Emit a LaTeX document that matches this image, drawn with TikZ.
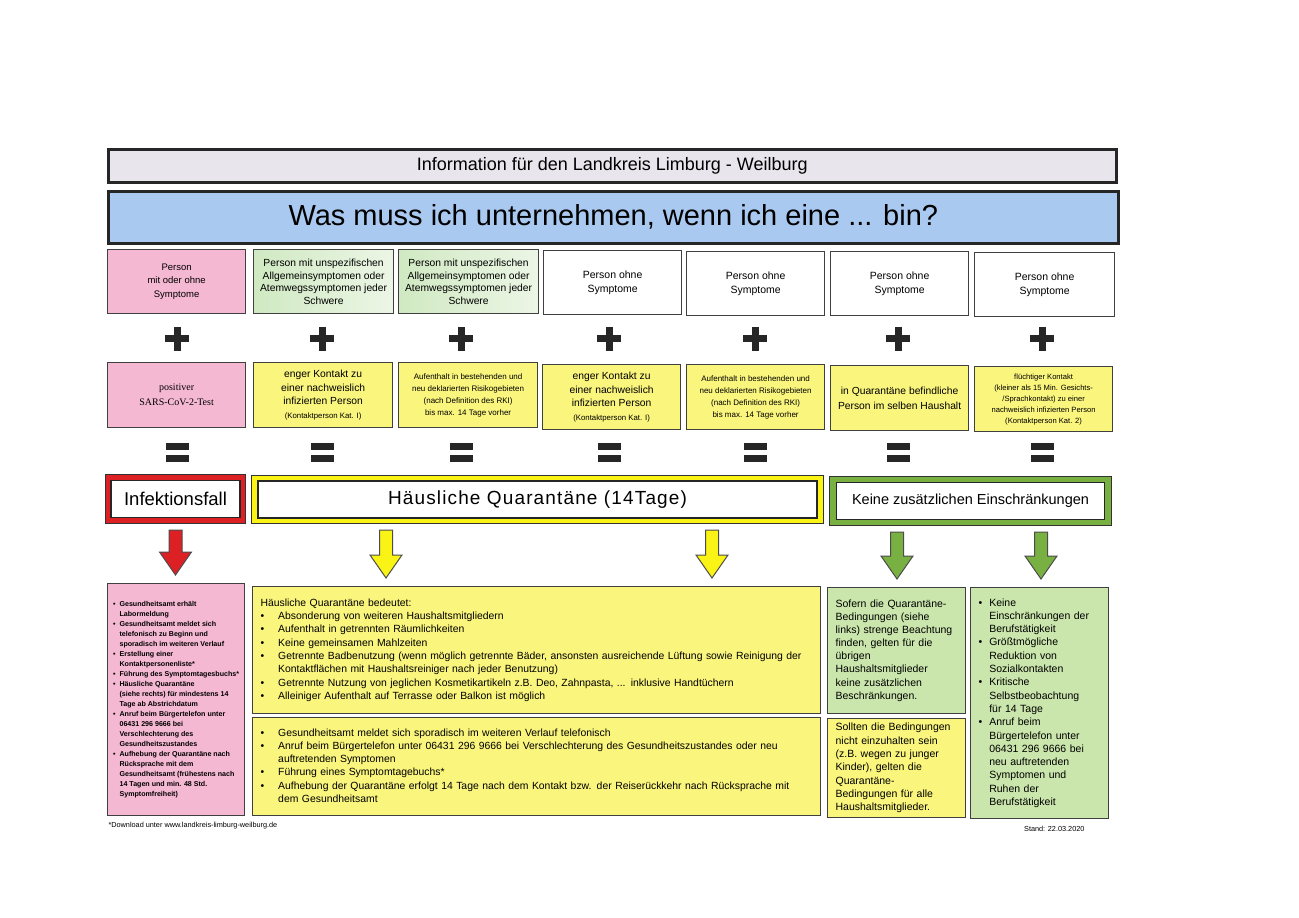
\documentclass[tikz,border=0pt]{standalone}
\usepackage{fontspec}
\usepackage{tikz}
\setmainfont{Liberation Sans}
\newfontfamily\serfont{Liberation Serif}
\newfontfamily\spacedfont[LetterSpace=6]{Liberation Sans}
\usetikzlibrary{calc}

\definecolor{headgray}{RGB}{232,229,236}
\definecolor{headblue}{RGB}{170,201,241}
\definecolor{pinkfill}{RGB}{245,184,210}
\definecolor{yelfill}{RGB}{250,245,125}
\definecolor{grnfill}{RGB}{202,230,172}
\definecolor{grnlight}{RGB}{236,246,230}
\definecolor{grndark}{RGB}{208,233,194}
\definecolor{redframe}{RGB}{221,32,36}
\definecolor{yelframe}{RGB}{250,244,22}
\definecolor{grnframe}{RGB}{120,176,66}

\newcommand{\fs}[2]{\fontsize{#1}{#2}\selectfont}
\newcommand{\bul}{\textbullet}
\newcommand{\blockarrow}[4]{%
  \draw[arrowline,fill=#1] let \p1=(#2),\p2=(#3.south),\p3=(#4.north) in
    (\x1-6.5pt,\y2-6pt) -- (\x1+6.5pt,\y2-6pt) -- (\x1+6.5pt,\y3+31pt) -- (\x1+16pt,\y3+31pt)
    -- (\x1,\y3+8pt) -- (\x1-16pt,\y3+31pt) -- (\x1-6.5pt,\y3+31pt) -- cycle;}

\begin{document}
\begin{tikzpicture}[x=1pt,y=-1pt,
  box/.style={rectangle,draw=black!75,line width=1.2pt,anchor=north west,align=center,inner sep=2pt},
  head/.style={rectangle,draw=black!85,line width=2.6pt,anchor=north west,align=center},
  frame/.style={rectangle,draw=black!80,line width=1pt,anchor=north west},
  inbox/.style={rectangle,draw=black!85,line width=1.3pt,fill=white,align=center},
  greenbox/.style={left color=grndark,right color=grnlight},
  textbox/.style={box,align=left,inner xsep=8pt},
  arrowline/.style={draw=black!70,line width=1pt},
  sign/.style={fill=black!85}]

\useasboundingbox (0,0) rectangle (1299,918);

% header
\node[head,fill=headgray,minimum width=1008,minimum height=33,font=\fs{18}{20}] (info) at (107,148) {Information für den Landkreis Limburg - Weilburg};
\node[head,fill=headblue,minimum width=1010,minimum height=52,font=\fs{29}{32}] (title) at (107,190) {Was muss ich unternehmen, wenn ich eine ... bin?};

% persons
\node[box,fill=pinkfill,minimum width=138,minimum height=64,font=\fs{9.5}{13.5}] (p1) at (107,249) {Person\\mit oder ohne\\Symptome};
\node[box,greenbox,minimum width=140,minimum height=64,font=\fs{10.3}{12.5}] (p2) at (253,249) {Person mit unspezifischen\\Allgemeinsymptomen oder\\Atemwegssymptomen jeder\\Schwere};
\node[box,greenbox,minimum width=140,minimum height=64,font=\fs{10.3}{12.5}] (p3) at (398,249) {Person mit unspezifischen\\Allgemeinsymptomen oder\\Atemwegssymptomen jeder\\Schwere};
\node[box,fill=white,minimum width=138,minimum height=64,font=\fs{10.5}{14}] (p4) at (543,250) {Person ohne\\Symptome};
\node[box,fill=white,minimum width=138,minimum height=64,font=\fs{10.5}{14}] (p5) at (686,251) {Person ohne\\Symptome};
\node[box,fill=white,minimum width=138,minimum height=64,font=\fs{10.5}{14}] (p6) at (830,251) {Person ohne\\Symptome};
\node[box,fill=white,minimum width=140,minimum height=64,font=\fs{10.5}{14}] (p7) at (974,252) {Person ohne\\Symptome};

% plus and equals
\foreach \x in {177,322,461,609,755,898,1042} {
  \fill[sign] (\x-12,335) rectangle (\x+12,342);
  \fill[sign] (\x-3.5,326.5) rectangle (\x+3.5,350.5);
  \fill[sign] (\x-11.5,443) rectangle (\x+11.5,450);
  \fill[sign] (\x-11.5,455) rectangle (\x+11.5,462);
}

% conditions
\node[box,fill=pinkfill,minimum width=138,minimum height=65,font=\serfont\fs{10}{15}] (c1) at (107,362) {positiver\\SARS-CoV-2-Test};
\node[box,fill=yelfill,minimum width=139,minimum height=65,font=\fs{10.3}{13.5}] (c2) at (253,362) {enger Kontakt zu\\einer nachweislich\\infizierten Person\\{\fs{7.8}{12}(Kontaktperson Kat. I)}};
\node[box,fill=yelfill,minimum width=139,minimum height=65,font=\fs{8}{12}] (c3) at (398,362) {Aufenthalt in bestehenden und\\neu deklarierten Risikogebieten\\(nach Definition des RKI)\\bis max. 14 Tage vorher};
\node[box,fill=yelfill,minimum width=138,minimum height=65,font=\fs{10.3}{13.5}] (c4) at (542,364) {enger Kontakt zu\\einer nachweislich\\infizierten Person\\{\fs{7.8}{12}(Kontaktperson Kat. I)}};
\node[box,fill=yelfill,minimum width=138,minimum height=65,font=\fs{8}{12}] (c5) at (686,364) {Aufenthalt in bestehenden und\\neu deklarierten Risikogebieten\\(nach Definition des RKI)\\bis max. 14 Tage vorher};
\node[box,fill=yelfill,minimum width=138,minimum height=65,font=\fs{10.3}{14.5}] (c6) at (830,365) {in Quarantäne befindliche\\Person im selben Haushalt};
\node[box,fill=yelfill,minimum width=138,minimum height=65,font=\fs{7.6}{11}] (c7) at (974,366) {flüchtiger Kontakt\\(kleiner als 15 Min. Gesichts-\\/Sprachkontakt) zu einer\\nachweislich infizierten Person\\(Kontaktperson Kat. 2)};

% results
\node[frame,fill=redframe,minimum width=140,minimum height=49] (inf) at (105,474) {};
\node[inbox,minimum width=129,minimum height=37,font=\fs{18.5}{20}] (inf-in) at (inf.center) {Infektionsfall};
\node[frame,fill=yelframe,minimum width=572,minimum height=48] (hq) at (251,475) {};
\node[inbox,minimum width=559,minimum height=37,font=\spacedfont\fs{19}{20}] (hq-in) at (hq.center) {Häusliche Quarantäne (14Tage)};
\node[frame,fill=grnframe,minimum width=282,minimum height=49] (keine) at (829,476) {};
\node[inbox,minimum width=268,minimum height=37,font=\fs{14.5}{16}] (keine-in) at (keine.center) {Keine zusätzlichen Einschränkungen};

% details
\node[box,fill=pinkfill,minimum width=137,minimum height=232,align=left,font=\bfseries\fs{7.1}{10}] (pinklist) at (107,583) {%
\begin{tabular}{@{}l@{\hspace{4pt}}l@{}}
\bul & Gesundheitsamt erhält\\
 & Labormeldung\\
\bul & Gesundheitsamt meldet sich\\
 & telefonisch zu Beginn und\\
 & sporadisch im weiteren Verlauf\\
\bul & Erstellung einer\\
 & Kontaktpersonenliste*\\
\bul & Führung des Symptomtagesbuchs*\\
\bul & Häusliche Quarantäne\\
 & (siehe rechts) für mindestens 14\\
 & Tage ab Abstrichdatum\\
\bul & Anruf beim Bürgertelefon unter\\
 & 06431 296 9666 bei\\
 & Verschlechterung des\\
 & Gesundheitszustandes\\
\bul & Aufhebung der Quarantäne nach\\
 & Rücksprache mit dem\\
 & Gesundheitsamt (frühestens nach\\
 & 14 Tagen und min. 48 Std.\\
 & Symptomfreiheit)
\end{tabular}};
\node[textbox,fill=yelfill,text width=552,minimum height=127,font=\fs{10.4}{13.3}] (quar) at (252,586) {%
\noindent\begin{tabular}{@{}l@{\hspace{14pt}}l@{}}
\multicolumn{2}{@{}l@{}}{Häusliche Quarantäne bedeutet:}\\
\bul & Absonderung von weiteren Haushaltsmitgliedern\\
\bul & Aufenthalt in getrennten Räumlichkeiten\\
\bul & Keine gemeinsamen Mahlzeiten\\
\bul & Getrennte Badbenutzung (wenn möglich getrennte Bäder, ansonsten ausreichende Lüftung sowie Reinigung der\\
 & Kontaktflächen mit Haushaltsreiniger nach jeder Benutzung)\\
\bul & Getrennte Nutzung von jeglichen Kosmetikartikeln z.B. Deo, Zahnpasta, ... inklusive Handtüchern\\
\bul & Alleiniger Aufenthalt auf Terrasse oder Balkon ist möglich
\end{tabular}};
\node[textbox,fill=yelfill,text width=552,minimum height=98,font=\fs{10.4}{13.3}] (quar2) at (252,717) {%
\noindent\begin{tabular}{@{}l@{\hspace{14pt}}l@{}}
\bul & Gesundheitsamt meldet sich sporadisch im weiteren Verlauf telefonisch\\
\bul & Anruf beim Bürgertelefon unter 06431 296 9666 bei Verschlechterung des Gesundheitszustandes oder neu\\
 & auftretenden Symptomen\\
\bul & Führung eines Symptomtagebuchs*\\
\bul & Aufhebung der Quarantäne erfolgt 14 Tage nach dem Kontakt bzw. der Reiserückkehr nach Rücksprache mit\\
 & dem Gesundheitsamt
\end{tabular}};
\node[textbox,fill=grnfill,text width=122,minimum height=126,font=\fs{10.5}{13.1}] (green1) at (827,587) {%
Sofern die Quarantäne-\\Bedingungen (siehe\\links) strenge Beachtung\\finden, gelten für die\\übrigen\\Haushaltsmitglieder\\keine zusätzlichen\\Beschränkungen.};
\node[textbox,fill=yelfill,text width=122,minimum height=99,font=\fs{10.5}{13.3}] (yel3) at (827,718) {%
Sollten die Bedingungen\\nicht einzuhalten sein\\(z.B. wegen zu junger\\Kinder), gelten die\\Quarantäne-\\Bedingungen für alle\\Haushaltsmitglieder.};
\node[textbox,fill=grnfill,text width=122,minimum height=231,font=\fs{10.5}{13.3}] (green2) at (970,587) {%
\noindent\begin{tabular}{@{}l@{\hspace{7pt}}l@{}}
\bul & Keine\\
 & Einschränkungen der\\
 & Berufstätigkeit\\
\bul & Größtmögliche\\
 & Reduktion von\\
 & Sozialkontakten\\
\bul & Kritische\\
 & Selbstbeobachtung\\
 & für 14 Tage\\
\bul & Anruf beim\\
 & Bürgertelefon unter\\
 & 06431 296 9666 bei\\
 & neu auftretenden\\
 & Symptomen und\\
 & Ruhen der\\
 & Berufstätigkeit
\end{tabular}};

% arrows
\coordinate (qa) at (386,0);
\coordinate (qb) at (712,0);
\coordinate (ka) at (897,0);
\coordinate (kb) at (1041,0);
\blockarrow{redframe}{inf}{inf}{pinklist}
\blockarrow{yelframe}{qa}{hq}{quar}
\blockarrow{yelframe}{qb}{hq}{quar}
\blockarrow{grnframe}{ka}{keine}{green1}
\blockarrow{grnframe}{kb}{keine}{green2}

% footer
\node[anchor=west,font=\fs{7.3}{9}] (download) at (105,826) {*Download unter www.landkreis-limburg-weilburg.de};
\node[anchor=east,font=\fs{7.3}{9}] (stand) at (1088,829) {Stand: 22.03.2020};
\end{tikzpicture}
\end{document}
